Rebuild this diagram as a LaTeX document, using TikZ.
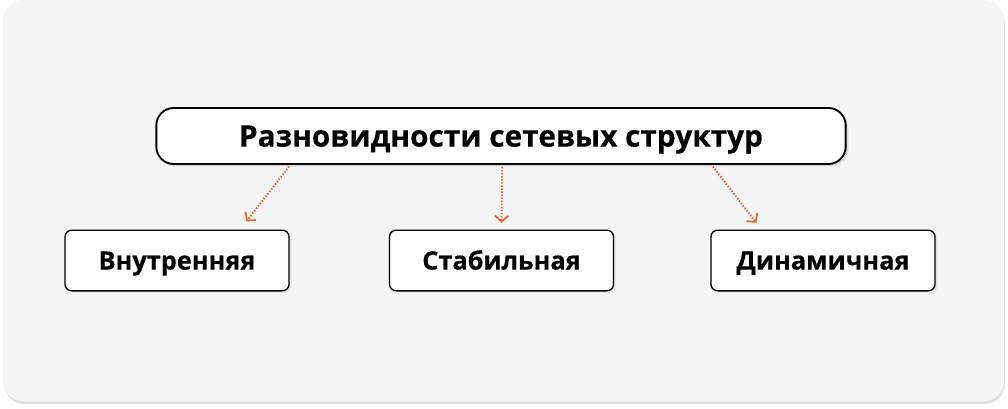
\documentclass[tikz,border=0pt]{standalone}
\usepackage{fontspec}
\setmainfont{Open Sans}[BoldFeatures={FakeBold=0.35}]
\usetikzlibrary{arrows.meta,positioning,calc,shadows}
\definecolor{panelgray}{RGB}{245,245,245}
\definecolor{floworange}{RGB}{240,98,36}

\begin{document}
\begin{tikzpicture}[x=0.75pt, y=-0.75pt,
    headbox/.style={draw, line width=1.4pt, rounded corners=13pt, fill=white, minimum width=517pt, minimum height=42pt, text height=15.9pt, text depth=0pt, font=\bfseries\fontsize{22.3}{26}\selectfont, drop shadow={shadow xshift=2pt, shadow yshift=-2pt, fill=black!25}},
    kindbox/.style={draw, line width=1pt, rounded corners=5pt, fill=white, minimum width=168pt, minimum height=45.5pt, text height=13.6pt, text depth=0pt, font=\bfseries\fontsize{19}{22}\selectfont, drop shadow={shadow xshift=2pt, shadow yshift=-1.5pt, fill=black!15}},
    flow/.style={floworange, line width=1.4pt, dash pattern=on 1.1pt off 1.2pt, -{Straight Barb[length=4.5pt, width=10pt, line width=1.3pt]}, shorten <=1.5pt}]
    \useasboundingbox (0,0) rectangle (1008,408);
    % Panel
    \fill[black!12, rounded corners=15pt] (4,3) rectangle (1005,404);
    \fill[panelgray, rounded corners=15pt] (3,0) rectangle (1004,401);
    % Title
    \node[headbox] (main) at (501,136) {Разновидности сетевых структур};
    % Kinds
    \node[kindbox] (inner) at (177,260.5) {Внутренняя};
    \node[kindbox] (stable) at (501.5,260.5) {Стабильная};
    \node[kindbox] (dynamic) at (823,260.5) {Динамичная};
    % Arrows
    \draw[flow] ([xshift=-158pt]main.south) -- ([xshift=52pt, yshift=6pt]inner.north);
    \draw[flow] ([xshift=1pt]main.south) -- ([yshift=5pt]stable.north);
    \draw[flow] ([xshift=158pt]main.south) -- ([xshift=-50pt, yshift=5pt]dynamic.north);
\end{tikzpicture}
\end{document}
